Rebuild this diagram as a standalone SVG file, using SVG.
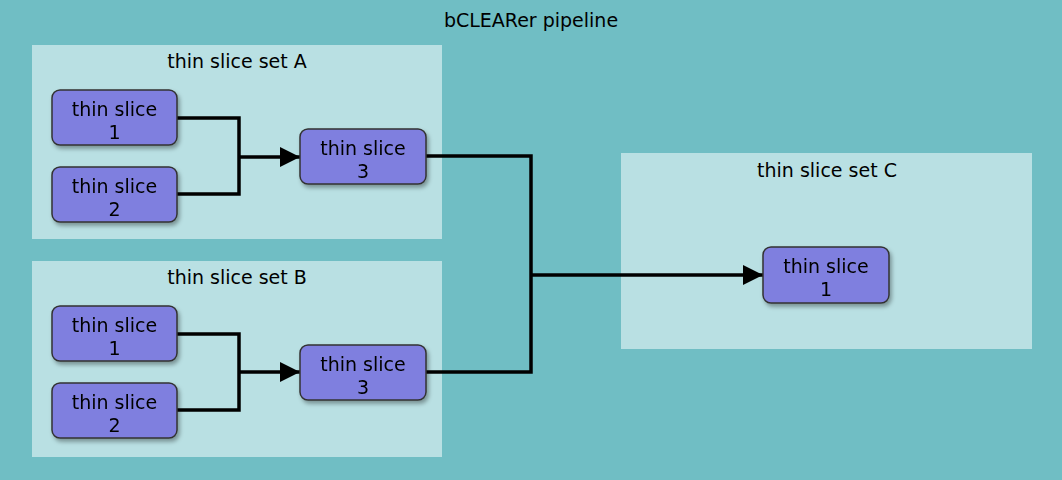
<svg xmlns="http://www.w3.org/2000/svg" width="1062" height="480" viewBox="0 0 1062 480">
<style>
.bg{fill:#70BEC4}
.set{fill:#B9E0E3}
.node{fill:#7F7FDF;stroke:#333;stroke-width:1.5}
.t{font-family:"DejaVu Sans",Verdana,sans-serif;font-size:19px;fill:#000;text-anchor:middle}
.c{fill:none;stroke:#000;stroke-width:3.5}
</style>
<defs>
<filter id="sh" x="-10%" y="-10%" width="130%" height="150%">
<feDropShadow dx="2" dy="3" stdDeviation="2" flood-color="#000" flood-opacity="0.35"/>
</filter>
<marker id="arr" markerWidth="20" markerHeight="20" viewBox="0 0 20 20" refX="20" refY="10" markerUnits="userSpaceOnUse" orient="auto">
<path d="M0,0 L20,10 L0,20 Z" fill="#000"/>
</marker>
</defs>
<g id="pipeline">
<rect class="bg" x="0" y="0" width="1062" height="480"/>
<text class="t" x="531" y="27">bCLEARer pipeline</text>
</g>
<g id="setA">
<rect class="set" x="32" y="45" width="410" height="194"/>
<text class="t" x="237" y="68">thin slice set A</text>
</g>
<g id="setB">
<rect class="set" x="32" y="261" width="410" height="196"/>
<text class="t" x="237" y="284">thin slice set B</text>
</g>
<g id="setC">
<rect class="set" x="621" y="153" width="411" height="196"/>
<text class="t" x="827" y="177">thin slice set C</text>
</g>
<g id="connectors">
<path class="c" d="M177,118 H239 V194 H177"/>
<path class="c" d="M239,157 H300" marker-end="url(#arr)"/>
<path class="c" d="M177,334 H239 V410 H177"/>
<path class="c" d="M239,372 H300" marker-end="url(#arr)"/>
<path class="c" d="M426,156 H531 V372 H426"/>
<path class="c" d="M531,275 H763" marker-end="url(#arr)"/>
</g>
<g id="A1" filter="url(#sh)">
<rect class="node" x="52" y="90" width="125" height="55" rx="8"/>
<text class="t" x="114.5" y="116">thin slice</text>
<text class="t" x="114.5" y="139">1</text>
</g>
<g id="A2" filter="url(#sh)">
<rect class="node" x="52" y="167" width="125" height="55" rx="8"/>
<text class="t" x="114.5" y="193">thin slice</text>
<text class="t" x="114.5" y="216">2</text>
</g>
<g id="A3" filter="url(#sh)">
<rect class="node" x="300" y="129" width="126" height="55" rx="8"/>
<text class="t" x="363" y="155">thin slice</text>
<text class="t" x="363" y="178">3</text>
</g>
<g id="B1" filter="url(#sh)">
<rect class="node" x="52" y="306" width="125" height="55" rx="8"/>
<text class="t" x="114.5" y="332">thin slice</text>
<text class="t" x="114.5" y="355">1</text>
</g>
<g id="B2" filter="url(#sh)">
<rect class="node" x="52" y="383" width="125" height="55" rx="8"/>
<text class="t" x="114.5" y="409">thin slice</text>
<text class="t" x="114.5" y="432">2</text>
</g>
<g id="B3" filter="url(#sh)">
<rect class="node" x="300" y="345" width="126" height="55" rx="8"/>
<text class="t" x="363" y="371">thin slice</text>
<text class="t" x="363" y="394">3</text>
</g>
<g id="C1" filter="url(#sh)">
<rect class="node" x="763" y="247" width="126" height="56" rx="8"/>
<text class="t" x="826" y="273">thin slice</text>
<text class="t" x="826" y="296">1</text>
</g>
</svg>
